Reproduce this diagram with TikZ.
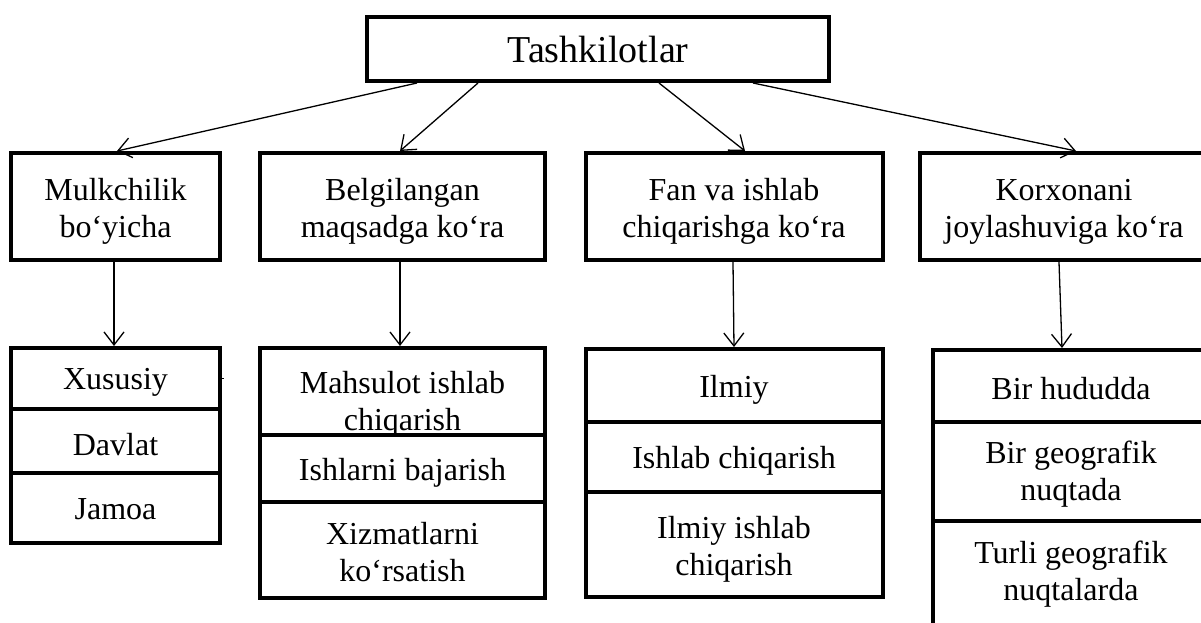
\documentclass[tikz,border=0pt]{standalone}
\usepackage{fontspec}
\setmainfont{Liberation Serif}
\usetikzlibrary{arrows.meta}

\begin{document}
\begin{tikzpicture}[x=0.5pt,y=-0.5pt,
  frame/.style={draw, line width=2pt, rectangle, inner sep=0pt},
  txt/.style={inner sep=0pt, align=center, font=\fontsize{16}{18.5}\selectfont},
  title/.style={inner sep=0pt, font=\fontsize{19}{22}\selectfont},
  arr/.style={line width=0.65pt, -{Straight Barb[length=6.5pt,width=10pt,line width=0.65pt]}}]

\clip (0,0) rectangle (1201,622);

% root
\node[frame, minimum width=231pt, minimum height=32pt] (T) at (598,49) {};
\node[title] (Tt) at (T.center) {Tashkilotlar};

% classification criteria
\node[frame, minimum width=104.5pt, minimum height=53.5pt] (A) at (115.5,206.5) {};
\node[frame, minimum width=142.5pt, minimum height=53.5pt] (B) at (402.5,206.5) {};
\node[frame, minimum width=148.5pt, minimum height=53.5pt] (C) at (734,206.5) {};
\node[frame, minimum width=144pt,   minimum height=53.5pt] (D) at (1064,206.5) {};
\node[txt] (At) at ([yshift=-2.5pt]A.center) {Mulkchilik\\bo‘yicha};
\node[txt] (Bt) at ([yshift=-2.5pt]B.center) {Belgilangan\\maqsadga ko‘ra};
\node[txt] (Ct) at ([yshift=-2.5pt]C.center) {Fan va ishlab\\chiqarishga ko‘ra};
\node[txt] (Dt) at ([yshift=-2.5pt]D.center) {Korxonani\\joylashuviga ko‘ra};

% ownership
\node[frame, minimum width=104.5pt, minimum height=30.5pt] (A1) at (115.5,378.5) {};
\node[frame, minimum width=104.5pt, minimum height=32pt]   (A2) at (115.5,441) {};
\node[frame, minimum width=104.5pt, minimum height=35pt]   (A3) at (115.5,508) {};
\node[txt] (A1t) at ([yshift=-2pt]A1.center) {Xususiy};
\node[txt] (A2t) at ([yshift=-2pt]A2.center) {Davlat};
\node[txt] (A3t) at ([yshift=-0.5pt]A3.center) {Jamoa};

% purpose
\node[frame, minimum width=142.5pt, minimum height=43.5pt] (B1) at (402.5,391.5) {};
\node[frame, minimum width=142.5pt, minimum height=33.5pt] (B2) at (402.5,468.5) {};
\node[frame, minimum width=142.5pt, minimum height=48pt]   (B3) at (402.5,550) {};
\node[txt] (B1t) at ([yshift=-6.5pt]B1.center) {Mahsulot ishlab\\chiqarish};
\node[txt] (B2t) at ([yshift=-2pt]B2.center) {Ishlarni bajarish};
\node[txt] (B3t) at ([yshift=-1pt]B3.center) {Xizmatlarni\\ko‘rsatish};

% science and production
\node[frame, minimum width=148.5pt, minimum height=36.5pt] (C1) at (734,385.5) {};
\node[frame, minimum width=148.5pt, minimum height=35pt]   (C2) at (734,457) {};
\node[frame, minimum width=148.5pt, minimum height=52.5pt] (C3) at (734,544.5) {};
\node[txt] (C1t) at ([yshift=-2pt]C1.center) {Ilmiy};
\node[txt] (C2t) at ([yshift=-2pt]C2.center) {Ishlab chiqarish};
\node[txt] (C3t) at ([yshift=-2.5pt]C3.center) {Ilmiy ishlab\\chiqarish};

% location
\node[frame, minimum width=138pt, minimum height=36pt]   (D1) at (1071,386) {};
\node[frame, minimum width=138pt, minimum height=49.5pt] (D2) at (1071,471.5) {};
\node[frame, minimum width=138pt, minimum height=53pt]   (D3) at (1071,574) {};
\node[txt] (D1t) at ([yshift=-1.5pt]D1.center) {Bir hududda};
\node[txt] (D2t) at ([yshift=-1.5pt]D2.center) {Bir geografik\\nuqtada};
\node[txt] (D3t) at (D3.center) {Turli geografik\\nuqtalarda};

% connectors from the root
\draw[arr] ([xshift=-90.5pt]T.south) -- ([xshift=0.75pt]A.north);
\draw[arr] ([xshift=-60pt]T.south)   -- ([xshift=-1.25pt]B.north);
\draw[arr] ([xshift=30.5pt]T.south)  -- ([xshift=5.5pt]C.north);
\draw[arr] ([xshift=77.5pt]T.south)  -- ([xshift=6pt]D.north);

% connectors to the lists
\draw[arr] ([xshift=-0.75pt]A.south) -- ([xshift=-0.75pt]A1.north);
\draw[arr] ([xshift=-1.25pt]B.south) -- ([xshift=-1.25pt]B1.north);
\draw[arr] ([xshift=-0.5pt]C.south)  -- (C1.north);
\draw[arr] ([xshift=-2.5pt]D.south)  -- ([xshift=-4.5pt]D1.north);

% small tick beside the first cell
\draw[line width=0.8pt] (A1.east) -- ++(1.5,0);
\end{tikzpicture}
\end{document}
